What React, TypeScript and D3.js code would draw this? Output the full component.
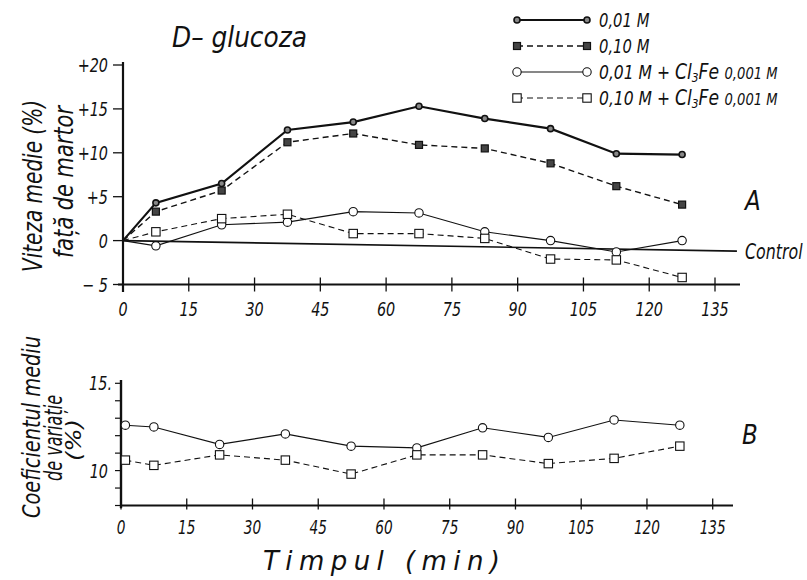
import React from 'react';
import * as d3 from 'd3';

// ---------- data ----------
const times = [0, 7.5, 22.5, 37.5, 52.5, 67.5, 82.5, 97.5, 112.5, 127.5];
const s001 = [0, 4.3, 6.5, 12.6, 13.5, 15.3, 13.9, 12.75, 9.9, 9.8];
const s010 = [0, 3.3, 5.7, 11.2, 12.2, 10.9, 10.5, 8.8, 6.2, 4.1];
const s001Fe = [0, -0.6, 1.8, 2.1, 3.3, 3.15, 1.0, 0.0, -1.3, 0.0];
const s010Fe = [0, 1.0, 2.5, 3.0, 0.8, 0.8, 0.25, -2.1, -2.2, -4.2];
const controlT = [0, 140];
const controlV = [0, -1.2];

const timesB = [1, 7.5, 22.5, 37.5, 52.5, 67.5, 82.5, 97.5, 112.5, 127.5];
const cvFe001 = [12.6, 12.5, 11.5, 12.1, 11.4, 11.3, 12.45, 11.9, 12.9, 12.6];
const cvFe010 = [10.6, 10.3, 10.9, 10.6, 9.8, 10.9, 10.9, 10.4, 10.7, 11.4];

const xTicks = [0, 15, 30, 45, 60, 75, 90, 105, 120, 135];
const yTicksA = [-5, 0, 5, 10, 15, 20];
const yTickLabelsA = ['\u2212 5', '0', '+5', '+10', '+15', '+20'];
const yTicksB = [8, 9, 10, 11, 12, 13, 14, 15];
const yTickLabelsB: Record<number, string> = { 10: '10', 15: '15.' };

const legendLabels = ['0,01 M', '0,10 M', '0,01 M  +  ', '0,10 M  +  '];

// ---------- styling ----------
const FONT = "'DejaVu Sans', sans-serif";
const INK = '#111';
const SX = 0.72; // horizontal condensing of the lettering

type Style = { width: number; dash?: string; marker: 'dot' | 'fsq' | 'oc' | 'osq' };

function CText({ x, y, size, anchor, children, sx = SX }: { x: number; y: number; size: number; anchor?: string; children: React.ReactNode; sx?: number }) {
  return (
    <text
      transform={`translate(${x},${y}) scale(${sx},1)`}
      fontSize={size}
      fontFamily={FONT}
      fontStyle="italic"
      fill={INK}
      textAnchor={anchor || 'start'}
    >
      {children}
    </text>
  );
}

function Marker({ x, y, kind }: { x: number; y: number; kind: Style['marker'] }) {
  if (kind === 'dot') return <circle cx={x} cy={y} r={3} fill="#888" stroke={INK} strokeWidth={1.6} />;
  if (kind === 'fsq') return <rect x={x - 3.5} y={y - 3.5} width={7} height={7} fill="#444" stroke={INK} strokeWidth={1.2} />;
  if (kind === 'oc') return <circle cx={x} cy={y} r={4.2} fill="#fff" stroke={INK} strokeWidth={1.1} />;
  return <rect x={x - 4.2} y={y - 4.2} width={8.4} height={8.4} fill="#fff" stroke={INK} strokeWidth={1.1} />;
}

function Series({ xs, ys, xS, yS, st }: { xs: number[]; ys: number[]; xS: d3.ScaleLinear<number, number>; yS: d3.ScaleLinear<number, number>; st: Style }) {
  const pts = xs.map((t, i) => [xS(t), yS(ys[i])] as [number, number]);
  const path = d3.line()(pts) || '';
  return (
    <g>
      <path d={path} fill="none" stroke={INK} strokeWidth={st.width} strokeDasharray={st.dash} />
      {pts.map((p, i) => (i === 0 && xs[0] === 0 && ys[0] === 0 ? null : <Marker key={i} x={p[0]} y={p[1]} kind={st.marker} />))}
    </g>
  );
}

const styles: Style[] = [
  { width: 2.2, marker: 'dot' },
  { width: 1.4, dash: '6,4', marker: 'fsq' },
  { width: 1.1, marker: 'oc' },
  { width: 1.1, dash: '6,4', marker: 'osq' },
];

export default function App() {
  const xA = d3.scaleLinear().domain([0, 135]).range([123, 715]);
  const yA = d3.scaleLinear().domain([-5, 20]).range([284.5, 65]);
  const xB = d3.scaleLinear().domain([0, 135]).range([121, 712.7]);
  const yB = d3.scaleLinear().domain([8, 15]).range([505.5, 383.3]);

  const seriesA = [s001, s010, s001Fe, s010Fe];
  const legendY = [20, 46, 72, 98];

  const txt = { fontFamily: FONT, fontStyle: 'italic' as const, fill: INK };

  return (
    <svg width={807} height={580} style={{ position: 'absolute', left: 0, top: 0, background: '#fff' }}>
      <rect width={807} height={580} fill="#fff" />

      {/* Title */}
      <text x={172} y={47} fontSize={28} textLength={135} lengthAdjust="spacingAndGlyphs" {...txt}>D– glucoza</text>

      {/* Legend */}
      {styles.map((st, i) => (
        <g key={i}>
          <line x1={517} x2={587} y1={legendY[i]} y2={legendY[i]} stroke={INK} strokeWidth={st.width} strokeDasharray={st.dash} />
          <Marker x={517} y={legendY[i]} kind={st.marker} />
          <Marker x={587} y={legendY[i]} kind={st.marker} />
          {i < 2 ? (
            <CText x={599} y={legendY[i] + 7} size={20} sx={0.74}>{legendLabels[i]}</CText>
          ) : (
            <CText x={599} y={legendY[i] + 7} size={19} sx={0.82}>
              {legendLabels[i]}
              <tspan fontSize={21}>Cl</tspan>
              <tspan dy={3} fontSize={13}>3</tspan>
              <tspan dy={-3} fontSize={21}>Fe </tspan>
              <tspan fontSize={16}>0,001 M</tspan>
            </CText>
          )}
        </g>
      ))}

      {/* Panel A axes */}
      <line x1={123} x2={123} y1={62} y2={292} stroke={INK} strokeWidth={2.2} />
      <line x1={118} x2={740} y1={yA(-5)} y2={yA(-5)} stroke={INK} strokeWidth={2.2} />
      {yTicksA.map((v, i) => (
        <g key={v}>
          <line x1={113} x2={123} y1={yA(v)} y2={yA(v)} stroke={INK} strokeWidth={1.3} />
          <CText x={108} y={yA(v) + 7} size={20} anchor="end">{yTickLabelsA[i]}</CText>
        </g>
      ))}
      {xTicks.map((t) => (
        <g key={t}>
          <line x1={xA(t)} x2={xA(t)} y1={yA(-5) - 7} y2={yA(-5) + 7} stroke={INK} strokeWidth={1.3} />
          <CText x={xA(t)} y={316} size={20} anchor="middle">{t}</CText>
        </g>
      ))}

      {/* Control line */}
      <line x1={xA(controlT[0])} x2={xA(controlT[1])} y1={yA(controlV[0])} y2={yA(controlV[1])} stroke={INK} strokeWidth={1.6} />
      <CText x={745} y={259} size={22}>Control</CText>
      <CText x={745} y={210} size={27} sx={0.85}>A</CText>

      {/* Panel A series */}
      {seriesA.map((ys, i) => (
        <Series key={i} xs={times} ys={ys} xS={xA} yS={yA} st={styles[i]} />
      ))}

      {/* Panel A y label */}
      <text transform="translate(42,272) rotate(-90)" fontSize={26} textLength={172} lengthAdjust="spacingAndGlyphs" {...txt}>Viteza medie (%)</text>
      <text transform="translate(73,258) rotate(-90)" fontSize={26} textLength={152} lengthAdjust="spacingAndGlyphs" {...txt}>față de martor</text>

      {/* Panel B axes */}
      <line x1={121} x2={121} y1={380} y2={508} stroke={INK} strokeWidth={2.4} />
      <line x1={121} x2={733} y1={yB(8)} y2={yB(8)} stroke={INK} strokeWidth={2.2} />
      {yTicksB.map((v) => (
        <g key={v}>
          <line x1={115} x2={121} y1={yB(v)} y2={yB(v)} stroke={INK} strokeWidth={1.2} />
          {yTickLabelsB[v] ? (
            <CText x={v === 15 ? 112 : 108} y={yB(v) + 7} size={20} anchor="end">{yTickLabelsB[v]}</CText>
          ) : null}
        </g>
      ))}
      {xTicks.map((t) => (
        <g key={t}>
          <line x1={xB(t)} x2={xB(t)} y1={yB(8) - 7} y2={yB(8) + 4} stroke={INK} strokeWidth={1.3} />
          <CText x={xB(t)} y={534} size={19} anchor="middle">{t}</CText>
        </g>
      ))}
      <CText x={742} y={444} size={27} sx={0.85}>B</CText>

      {/* Panel B series */}
      <Series xs={timesB} ys={cvFe001} xS={xB} yS={yB} st={styles[2]} />
      <Series xs={timesB} ys={cvFe010} xS={xB} yS={yB} st={styles[3]} />

      {/* Panel B y label */}
      <text transform="translate(40,518) rotate(-90)" fontSize={24} textLength={182} lengthAdjust="spacingAndGlyphs" {...txt}>Coeficientul mediu</text>
      <text transform="translate(62,481) rotate(-90)" fontSize={24} textLength={86} lengthAdjust="spacingAndGlyphs" {...txt}>de variație</text>
      <text transform="translate(81,461) rotate(-90)" fontSize={21} textLength={42} lengthAdjust="spacingAndGlyphs" {...txt}>(%)</text>

      {/* X label */}
      <text x={263} y={570} fontSize={26} textLength={237} lengthAdjust="spacing" {...txt}>Timpul  (min)</text>
    </svg>
  );
}
